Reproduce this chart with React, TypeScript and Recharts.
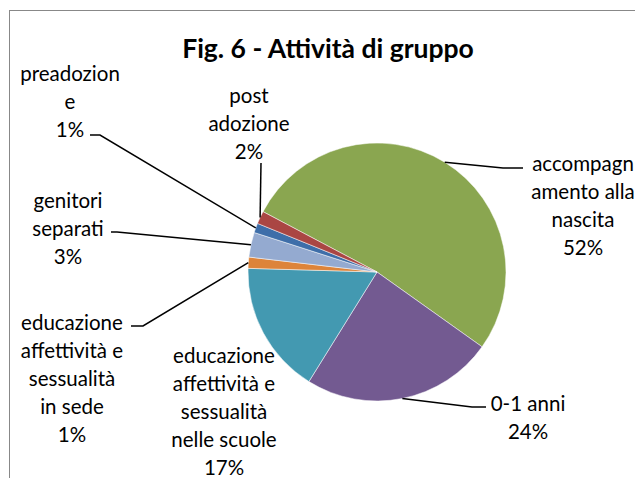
import React from "react";
import { PieChart, Pie, Cell } from "recharts";

// slices in drawing order (clockwise, starting from the green one)
const categories = [
  "accompagnamento alla nascita",
  "0-1 anni",
  "educazione affettività e sessualità nelle scuole",
  "educazione affettività e sessualità in sede",
  "genitori separati",
  "preadozione",
  "post adozione",
];
const values = [52.1, 24.0, 16.6, 1.4, 3.1, 1.2, 1.6];
// wrapped category text, as Excel breaks it
const labelLines = [
  ["accompagn", "amento alla", "nascita"],
  ["0-1 anni"],
  ["educazione", "affettività e", "sessualità", "nelle scuole"],
  ["educazione", "affettività e", "sessualità", "in sede"],
  ["genitori", "separati"],
  ["preadozion", "e"],
  ["post", "adozione"],
];
const colors = ["#8AA650", "#735A91", "#4399B1", "#DD843A", "#94AAD0", "#3E6EA9", "#AA4643"];

const data = categories.map((name, i) => ({ name, value: values[i] }));

// label placement: center x, first-line y, and leader points on the text side
const labelPos = [
  { x: 583, y: 163, leader: [[523, 168], [503, 168]] },
  { x: 528, y: 403, leader: [[486, 407], [472, 407]] },
  { x: 224, y: 355, leader: [] },
  { x: 72, y: 322, leader: [[131, 326], [143, 326]] },
  { x: 68, y: 200, leader: [[111, 232], [117, 232]] },
  { x: 70, y: 73, leader: [[90, 135], [100, 135]] },
  { x: 249, y: 95, leader: [[261, 163]] },
];

const FONT = "Lato, 'Liberation Sans', sans-serif";
const LINE_H = 28;
const RAD = Math.PI / 180;

const renderLabel = (props: any) => {
  const { cx, cy, midAngle, outerRadius, percent, index } = props;
  const pos = labelPos[index];
  const ex = cx + outerRadius * Math.cos(-midAngle * RAD);
  const ey = cy + outerRadius * Math.sin(-midAngle * RAD);
  const lines = [...labelLines[index], `${Math.round(percent * 100)}%`];
  const pts = pos.leader.length ? [...pos.leader, [ex, ey]] : [];
  return (
    <g key={`lbl-${index}`}>
      {pts.length > 0 && (
        <polyline
          points={pts.map((p) => p.join(",")).join(" ")}
          fill="none"
          stroke="#000"
          strokeWidth={1.5}
        />
      )}
      <text
        x={pos.x}
        y={pos.y}
        textAnchor="middle"
        fontFamily={FONT}
        fontSize={20.5}
        fill="#000"
      >
        {lines.map((l, i) => (
          <tspan key={i} x={pos.x} y={pos.y + i * LINE_H} dominantBaseline="central">
            {l}
          </tspan>
        ))}
      </text>
    </g>
  );
};

export default function App() {
  return (
    <div
      style={{
        position: "absolute",
        left: 0,
        top: 0,
        width: 635,
        height: 478,
        background: "#fff",
        overflow: "hidden",
      }}
    >
      {/* chart area frame, runs off the right and bottom edges */}
      <div
        style={{
          position: "absolute",
          left: 9,
          top: 10,
          width: 700,
          height: 600,
          border: "1px solid #888",
        }}
      />
      <div
        style={{
          position: "absolute",
          left: 0,
          top: 32,
          width: 656,
          textAlign: "center",
          fontFamily: FONT,
          fontWeight: 700,
          fontSize: 26.5,
          lineHeight: "32px",
          color: "#000",
          whiteSpace: "nowrap",
        }}
      >
        Fig. 6 - Attività di gruppo
      </div>
      <PieChart
        width={635}
        height={478}
        margin={{ top: 0, right: 0, bottom: 0, left: 0 }}
        style={{ position: "absolute", left: 0, top: 0 }}
      >
        <Pie
          data={data}
          dataKey="value"
          nameKey="name"
          cx={377}
          cy={272}
          outerRadius={129}
          startAngle={152.1}
          endAngle={-207.9}
          stroke="#fff"
          strokeWidth={0.5}
          label={renderLabel}
          labelLine={false}
          isAnimationActive={false}
        >
          {data.map((d, i) => (
            <Cell key={d.name} fill={colors[i]} />
          ))}
        </Pie>
      </PieChart>
    </div>
  );
}
